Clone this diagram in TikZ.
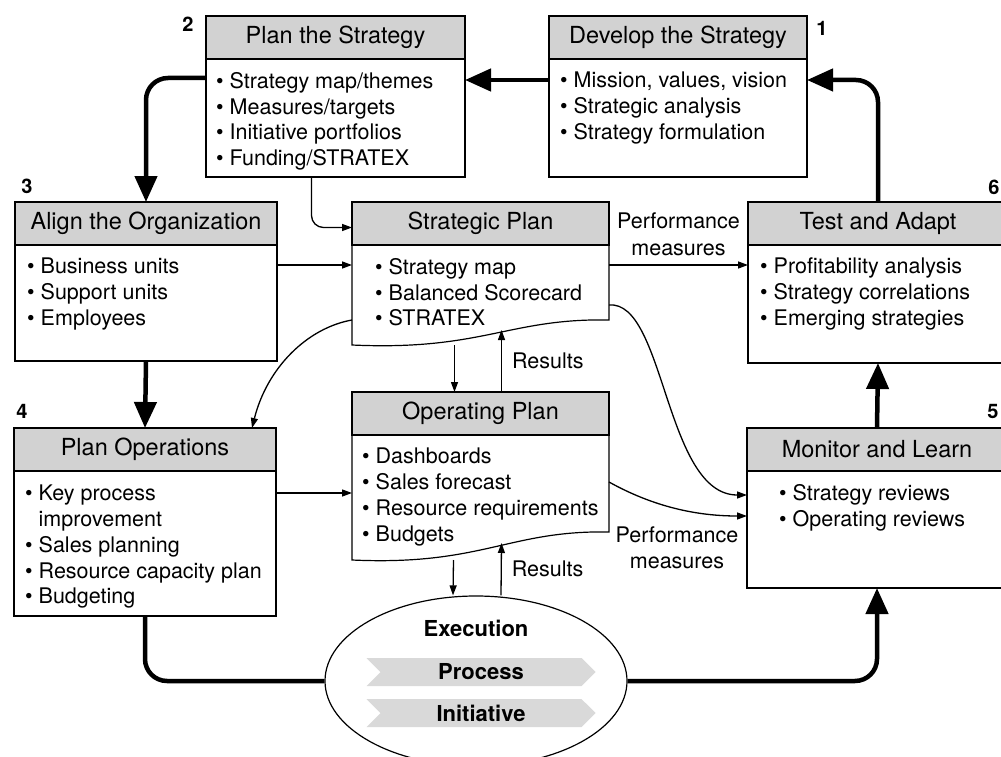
\documentclass[tikz,border=0pt]{standalone}
\usepackage{fontspec}
\setmainfont{TeX Gyre Heros}
\usetikzlibrary{positioning,shapes.geometric,shapes.symbols,arrows.meta}

\tikzset{
  head/.style={draw, line width=1.2pt, fill=gray!35, inner sep=0pt, outer sep=0pt, minimum height=43pt, anchor=north west, font=\fontsize{23.5}{28}\selectfont},
  body/.style={draw, line width=1.2pt, inner sep=0pt, outer sep=0pt},
  items/.style={align=left, inner sep=0pt, anchor=north west, font=\fontsize{21.5}{25.75}\selectfont},
  note/.style={align=center, inner sep=0pt, font=\fontsize{21.5}{26.5}\selectfont},
  num/.style={inner sep=0pt, font=\fontsize{20}{24}\selectfont\bfseries},
  mainflow/.style={line width=4.5pt, rounded corners=22pt},
  mainarrow/.style={mainflow, -{Triangle[length=26pt,width=22pt]}},
  link/.style={line width=1.3pt, -{Triangle[length=10pt,width=7pt]}},
  chevron/.style={signal, signal to=east, signal from=west, fill=gray!30, inner sep=0pt, minimum width=229pt, minimum height=28pt, font=\fontsize{22}{26}\selectfont\bfseries},
}

\begin{document}
\begin{tikzpicture}[x=1pt,y=-1pt]
\useasboundingbox (0,0) rectangle (1001,757);
\clip (0,0) rectangle (1001,757);

% the six steps
\node[head, minimum width=258pt] (devh) at (549,16) {Develop the Strategy};
\node[body, minimum width=258pt, minimum height=118pt, below=0pt of devh] (devb) {};
\node[items] (devt) at ([xshift=11pt,yshift=-13pt]devb.north west) {\textbullet~Mission, values, vision\\ \textbullet~Strategic analysis\\ \textbullet~Strategy formulation};

\node[head, minimum width=259pt] (plsh) at (206,16) {Plan the Strategy};
\node[body, minimum width=259pt, minimum height=118pt, below=0pt of plsh] (plsb) {};
\node[items] (plst) at ([xshift=10pt,yshift=-13pt]plsb.north west) {\textbullet~Strategy map/themes\\ \textbullet~Measures/targets\\ \textbullet~Initiative portfolios\\ \textbullet~Funding/STRATEX};

\node[head, minimum width=262pt] (alnh) at (15,202) {Align the Organization};
\node[body, minimum width=262pt, minimum height=116pt, below=0pt of alnh] (alnb) {};
\node[items] (alnt) at ([xshift=12pt,yshift=-13pt]alnb.north west) {\textbullet~Business units\\ \textbullet~Support units\\ \textbullet~Employees};

\node[head, minimum width=262pt] (poph) at (14,428) {Plan Operations};
\node[body, minimum width=262pt, minimum height=145pt, below=0pt of poph] (popb) {};
\node[items] (popt) at ([xshift=11pt,yshift=-14pt]popb.north west) {\textbullet~Key process\\ \hphantom{\textbullet~}improvement\\ \textbullet~Sales planning\\ \textbullet~Resource capacity plan\\ \textbullet~Budgeting};

\node[head, minimum width=260pt] (monh) at (747,428) {Monitor and Learn};
\node[body, minimum width=260pt, minimum height=117pt, below=0pt of monh] (monb) {};
\node[items] (mont) at ([xshift=32pt,yshift=-13pt]monb.north west) {\textbullet~Strategy reviews\\ \textbullet~Operating reviews};

\node[head, minimum width=260pt] (tadh) at (748,202) {Test and Adapt};
\node[body, minimum width=260pt, minimum height=118pt, below=0pt of tadh] (tadb) {};
\node[items] (tadt) at ([xshift=12pt,yshift=-13pt]tadb.north west) {\textbullet~Profitability analysis\\ \textbullet~Strategy correlations\\ \textbullet~Emerging strategies};

% the two plans
\node[head, minimum width=257pt] (sph) at (352,202) {Strategic Plan};
\node[body, draw=none, minimum width=257pt, minimum height=100pt, below=0pt of sph] (spb) {};
\draw[line width=1.2pt] (sph.south west) -- (spb.south west) .. controls +(130,6) and +(-100,-2) .. ([yshift=25pt]spb.south east) -- (sph.south east);
\node[items] (spt) at ([xshift=23pt,yshift=-13pt]spb.north west) {\textbullet~Strategy map\\ \textbullet~Balanced Scorecard\\ \textbullet~STRATEX};

\node[head, minimum width=257pt] (oph) at (352,392) {Operating Plan};
\node[body, draw=none, minimum width=257pt, minimum height=125pt, below=0pt of oph] (opb) {};
\draw[line width=1.2pt] (oph.south west) -- (opb.south west) .. controls +(130,6) and +(-100,-2) .. ([yshift=28pt]opb.south east) -- (oph.south east);
\node[items] (opt) at ([xshift=10pt,yshift=-13pt]opb.north west) {\textbullet~Dashboards\\ \textbullet~Sales forecast\\ \textbullet~Resource requirements\\ \textbullet~Budgets};

% execution
\node[ellipse, draw, line width=1.2pt, minimum width=302pt, minimum height=170pt] (exe) at (476,681) {};
\node[inner sep=0pt, font=\fontsize{22}{26}\selectfont\bfseries] (exet) at (476,628) {Execution};
\node[chevron] (proc) at (481,672) {Process};
\node[chevron] (init) at (481,713) {Initiative};

% step numbers
\node[num] (n1) at (822,28) {1};
\node[num] (n2) at (188,24) {2};
\node[num] (n3) at (27,186) {3};
\node[num] (n4) at (22,411) {4};
\node[num] (n5) at (993,411) {5};
\node[num] (n6) at (994,187) {6};

% main loop
\draw[mainarrow] ([yshift=-21pt]devb.north west) -- ([yshift=-21pt]plsb.north east);
\draw[mainarrow] ([yshift=-19pt]plsb.north west) -| (alnh.north);
\draw[mainarrow] (alnb.south) -- (poph.north);
\draw[mainflow] (popb.south) |- (exe.west);
\draw[mainarrow] (exe.east) -| (monb.south);
\draw[mainarrow] (monh.north) -- (tadb.south);
\draw[mainarrow] (tadh.north) |- ([yshift=-21pt]devb.north east);

% plans and feedback
\draw[link, rounded corners=12pt] ([xshift=-24pt]plsb.south) |- ([yshift=-4pt]sph.west);
\draw[link] ([yshift=-20pt]alnb.north east) -- ([yshift=-20pt]spb.north west);
\draw[link] ([yshift=-20pt]spb.north east) -- node[note, above=9pt] (pm1) {Performance\\measures} ([yshift=-20pt]tadb.north west);
\draw[link] ([yshift=-75pt]spb.north west) .. controls +(-45,8) and +(15,-60) .. ([xshift=-24pt]poph.north east);
\draw[link] ([xshift=-26pt]spb.south) -- ([xshift=-26pt]oph.north);
\draw[link] ([xshift=21pt]oph.north) -- node[note, right=10pt] (res1) {Results} ([xshift=21pt,yshift=15pt]spb.south);
\draw[link] ([yshift=-60pt]spb.north east) .. controls +(56,-5) and +(-82,0) .. ([yshift=-24pt]monb.north west);
\draw[link] ([yshift=-22pt]popb.north east) -- ([yshift=-58pt]opb.north west);
\draw[link] ([yshift=-47pt]opb.north east) .. controls +(45,25) and +(-50,0) .. ([yshift=-45pt]monb.north west);
\node[note] (pm2) at ([xshift=-70pt,yshift=-77pt]monb.north west) {Performance\\measures};
\draw[link] ([xshift=-27pt]opb.south) -- ([xshift=-23pt]exe.north);
\draw[link] ([xshift=25pt]exe.north) -- node[note, right=10pt] (res2) {Results} ([xshift=21pt,yshift=17pt]opb.south);
\end{tikzpicture}
\end{document}
